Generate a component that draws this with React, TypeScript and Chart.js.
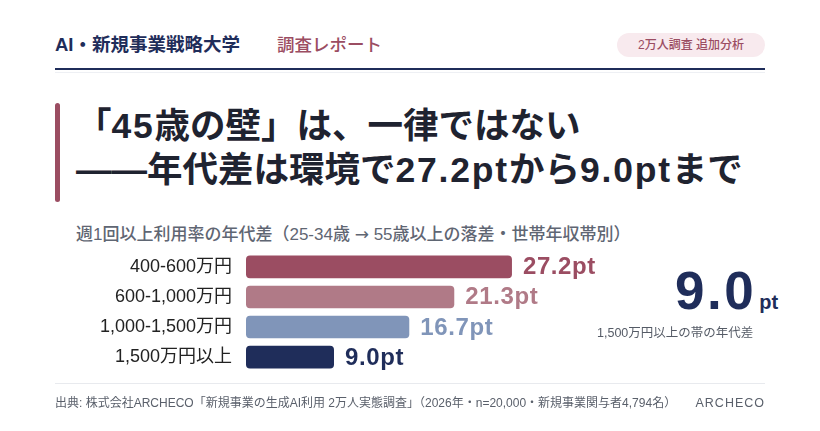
import React, { useEffect, useRef } from "react";
import { Chart, registerables } from "chart.js";

Chart.register(...registerables);

const categories = ["400-600万円", "600-1,000万円", "1,000-1,500万円", "1,500万円以上"];
const gapValues = [27.2, 21.3, 16.7, 9.0];
const barColors = ["#9b4d62", "#b07a87", "#8095b9", "#1f2d5a"];
const valueLabels = ["27.2pt", "21.3pt", "16.7pt", "9.0pt"];

const FONT = '"Liberation Sans", "Noto Sans CJK JP", sans-serif';
const NAVY = "#1f2d5a";
const ROSE = "#9b4d62";

const valueLabelPlugin = {
  id: "valueLabels",
  afterDatasetsDraw(chart: any) {
    const ctx = chart.ctx;
    const meta = chart.getDatasetMeta(0);
    ctx.save();
    ctx.font = `bold 24px ${FONT}`;
    try {
      (ctx as any).letterSpacing = "0.6px";
    } catch (e) {}
    ctx.textBaseline = "alphabetic";
    ctx.textAlign = "left";
    meta.data.forEach((bar: any, i: number) => {
      ctx.fillStyle = barColors[i];
      ctx.fillText(valueLabels[i], bar.x + 11, bar.y + 7.5);
    });
    ctx.restore();
  },
};

export default function App() {
  const canvasRef = useRef<HTMLCanvasElement>(null);

  useEffect(() => {
    document.body.style.margin = "0";
    const chart = new Chart(canvasRef.current!, {
      type: "bar",
      data: {
        labels: categories,
        datasets: [
          {
            data: gapValues,
            backgroundColor: barColors,
            borderRadius: 4,
            borderSkipped: false,
            categoryPercentage: 1,
            barPercentage: 0.75,
          },
        ],
      },
      options: {
        indexAxis: "y",
        animation: false,
        responsive: false,
        maintainAspectRatio: false,
        layout: { padding: { left: 0, right: 22, top: 0, bottom: 0 } },
        plugins: { legend: { display: false }, tooltip: { enabled: false } },
        scales: {
          x: { display: false, min: 0, max: 36, grid: { display: false } },
          y: {
            grid: { display: false, drawTicks: false },
            border: { display: false },
            afterFit: (scale: any) => {
              scale.width = 186;
            },
            ticks: {
              padding: 14,
              color: "#222222",
              font: { family: FONT, size: 18 },
            },
          },
        },
      },
      plugins: [valueLabelPlugin],
    });
    return () => chart.destroy();
  }, []);

  const latin = { letterSpacing: 1.8 };

  return (
    <div
      style={{
        position: "absolute",
        left: 0,
        top: 0,
        width: 820,
        height: 431,
        background: "#ffffff",
        fontFamily: FONT,
        overflow: "hidden",
      }}
    >
      {/* Header */}
      <div style={{ position: "absolute", left: 55, top: 34, fontSize: 18.5, fontWeight: 700, color: NAVY, lineHeight: "22px", whiteSpace: "nowrap" }}>
        AI・新規事業戦略大学
      </div>
      <div style={{ position: "absolute", left: 277, top: 34, fontSize: 17.5, fontWeight: 500, color: ROSE, lineHeight: "22px", whiteSpace: "nowrap" }}>
        調査レポート
      </div>
      <div
        style={{
          position: "absolute",
          left: 617,
          top: 33,
          width: 148,
          height: 24,
          borderRadius: 12,
          background: "#f8eaee",
          color: ROSE,
          fontSize: 12,
          fontWeight: 500,
          lineHeight: "24px",
          textAlign: "center",
          whiteSpace: "nowrap",
        }}
      >
        2万人調査 追加分析
      </div>
      <div style={{ position: "absolute", left: 55, top: 68, width: 710, height: 2, background: NAVY }} />
      <div style={{ position: "absolute", left: 55, top: 72, width: 710, height: 1, background: "#eef0f4" }} />

      {/* Title */}
      <div style={{ position: "absolute", left: 55, top: 103, width: 5, height: 99, borderRadius: 3, background: ROSE }} />
      <div
        style={{
          position: "absolute",
          left: 76,
          top: 104,
          fontSize: 35.5,
          fontWeight: 700,
          color: "#1f2330",
          lineHeight: "44px",
          whiteSpace: "nowrap",
        }}
      >
        「<span style={latin}>45</span>歳の壁」は、一律ではない
        <br />
        ——年代差は環境で<span style={latin}>27.2pt</span>から<span style={latin}>9.0pt</span>まで
      </div>

      {/* Subtitle */}
      <div style={{ position: "absolute", left: 76, top: 224, fontSize: 17, fontWeight: 500, color: "#5f6673", lineHeight: "20px", whiteSpace: "nowrap" }}>
        週1回以上利用率の年代差（25-34歳{" "}
        <span style={{ fontFamily: '"DejaVu Sans", sans-serif', fontSize: 17 }}>→</span> 55歳以上の落差・世帯年収帯別）
      </div>

      {/* Chart */}
      <canvas
        ref={canvasRef}
        width={560}
        height={170}
        style={{ position: "absolute", left: 60, top: 227, width: 560, height: 170 }}
      />

      {/* Big number */}
      <div style={{ position: "absolute", left: 675, top: 263, color: NAVY, fontWeight: 700, whiteSpace: "nowrap", fontSize: 53, lineHeight: "56px" }}>
        <span style={{ letterSpacing: 2.5 }}>9.0</span>
        <span style={{ fontSize: 20, marginLeft: 3 }}>pt</span>
      </div>
      <div style={{ position: "absolute", left: 597, top: 325, fontSize: 12.5, color: "#555b66", lineHeight: "16px", whiteSpace: "nowrap" }}>
        1,500万円以上の帯の年代差
      </div>

      {/* Footer */}
      <div style={{ position: "absolute", left: 55, top: 383, width: 710, height: 1, background: "#e8eaee" }} />
      <div style={{ position: "absolute", left: 55, top: 395, fontSize: 12, color: "#5a606b", lineHeight: "16px", whiteSpace: "nowrap" }}>
        出典: 株式会社ARCHECO「新規事業の生成AI利用 2万人実態調査」（2026年・n=20,000・新規事業関与者4,794名）
      </div>
      <div style={{ position: "absolute", right: 55, top: 395, fontSize: 12.5, color: "#5a606b", lineHeight: "16px", letterSpacing: 1, fontWeight: 500 }}>
        ARCHECO
      </div>
    </div>
  );
}
